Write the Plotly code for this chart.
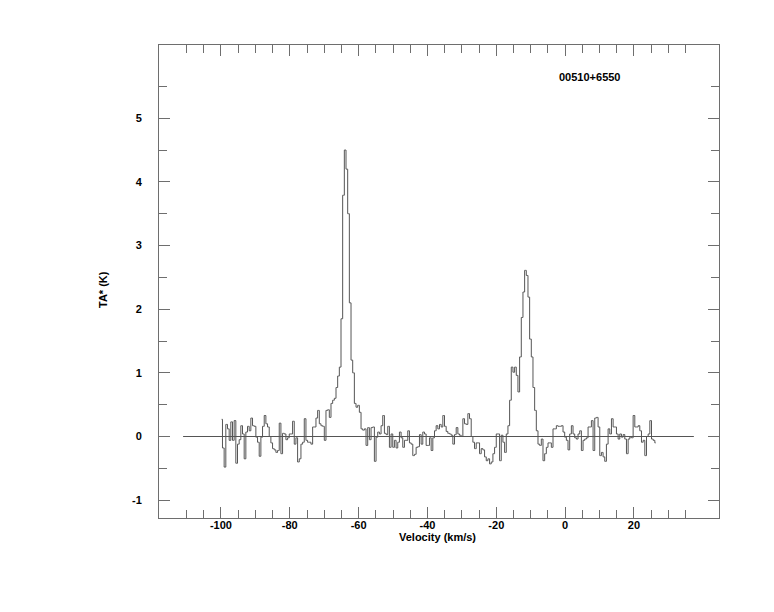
import plotly.graph_objects as go

# ---- data ----
v_start = -99.8      # km/s, first channel
chan_width = 0.485   # km/s per channel

seg_a = [0.27, -0.18, -0.48, 0.19, 0.12, -0.06, 0.23, -0.06, 0.25, -0.42, -0.12,
         -0.05, 0.17, 0.04, -0.35, 0.07, 0.16, 0.09, 0.29, 0.17, 0.16,
         -0.01, -0.09, -0.31, -0.01, 0.16, 0.33, 0.20, 0.15, 0.00, -0.10,
         -0.19, -0.21, -0.25, -0.22, 0.21, -0.27, 0.05, 0.04, -0.05, -0.02,
         0.04, 0.04, 0.24, -0.12, -0.02, -0.40, -0.35, -0.12, -0.09, 0.28,
         -0.06, -0.09, -0.09, -0.12, 0.15, 0.15, 0.29, 0.41, 0.20, 0.17,
         0.16, -0.06, 0.41, 0.42, 0.30, 0.52, 0.57]
seg_peak1 = [0.60, 0.77, 0.95, 1.09, 1.85, 3.79, 4.50, 4.20, 3.50, 2.10,
             1.20, 1.00, 0.52]
seg_c = [0.46, 0.49, 0.38, 0.12, 0.10, 0.12, -0.14, 0.14, -0.05, 0.14, 0.15,
         -0.39, -0.01, 0.07, 0.04, 0.17, 0.33, 0.05, 0.03, 0.16, -0.17,
         0.04, -0.17, -0.06, -0.18, -0.09, 0.07, -0.02, -0.17, -0.06, -0.06,
         0.09, -0.10, -0.12, -0.30, -0.28, -0.17, -0.16, 0.03, -0.12, 0.07,
         0.04, -0.14, -0.14, -0.02, -0.22, -0.02, 0.09, 0.17, 0.12, 0.19,
         0.15, 0.33, 0.16, 0.08, 0.05, 0.04, 0.02, -0.12, 0.03, 0.14,
         0.04, 0.02, 0.00, 0.28, 0.20, 0.19, 0.36, 0.28, 0.00, -0.09,
         -0.19, -0.10, -0.10]
seg_d = [-0.27, -0.19, -0.21, -0.32, -0.38, -0.35, -0.43, -0.40, -0.27, -0.17,
         0.04, 0.04, -0.38, 0.02, -0.09, -0.25, 0.04, 0.17, 0.57, 1.09,
         1.01, 1.09, 0.96, 0.70, 1.25, 1.87, 2.27, 2.61, 2.53, 2.19,
         1.53, 1.25, 0.77, 0.41, 0.09, -0.12, -0.14, -0.04, -0.38, -0.27,
         -0.17, -0.10, -0.10, -0.17, 0.12, 0.12, 0.17, 0.16]
seg_e = [0.16, 0.17, 0.07, -0.01, -0.06, -0.21, 0.04, 0.17, 0.04, -0.02,
         -0.04, 0.04, 0.09, -0.22, -0.06, -0.04, -0.02, 0.15, 0.15, 0.25,
         -0.22, 0.29, 0.30, 0.15, -0.30, -0.25, -0.32, -0.39, -0.12, 0.12,
         0.04, 0.28, 0.15, 0.15, 0.04, -0.04, 0.04, -0.01, 0.03, -0.04,
         -0.27, -0.04, -0.01, -0.02, 0.33, 0.15, 0.15, 0.17, 0.09, -0.09,
         -0.06, -0.30, 0.00, 0.04, 0.25, -0.04, -0.06, -0.10]

ta_star = seg_a + seg_peak1 + seg_c + seg_d + seg_e
velocity = [v_start + i * chan_width for i in range(len(ta_star))]

baseline_x = [-111.0, 37.4]
baseline_y = [0.0, 0.0]

x_major = [-100, -80, -60, -40, -20, 0, 20]
x_major_text = ["-100", "-80", "-60", "-40", "-20", "0", "20"]
x_minor = [v for v in range(-110, 40, 5) if v not in x_major]
y_major = [-1, 0, 1, 2, 3, 4, 5]
y_major_text = ["-1", "0", "1", "2", "3", "4", "5"]
y_minor = [-0.5, 0.5, 1.5, 2.5, 3.5, 4.5, 5.5]

title_text = "00510+6550"
x_title = "Velocity (km/s)"
y_title = "TA* (K)"

# ---- figure ----
LINE = "#555555"
FRAME = "#6e6e6e"
FONT = "Liberation Sans, Arial, sans-serif"

fig = go.Figure()
fig.add_trace(go.Scatter(x=baseline_x, y=baseline_y, mode="lines",
                         line=dict(color=LINE, width=1), hoverinfo="skip",
                         showlegend=False))
fig.add_trace(go.Scatter(x=velocity, y=ta_star, mode="lines",
                         line=dict(color=LINE, width=1, shape="hvh"),
                         showlegend=False))

axis_common = dict(showline=True, linecolor=FRAME, linewidth=1, mirror="ticks",
                   ticks="inside", ticklen=11, tickwidth=1, tickcolor=FRAME,
                   showgrid=False, zeroline=False,
                   tickfont=dict(family=FONT, size=11, color="black", weight="bold"))

fig.update_xaxes(range=[-118, 44.7], tickmode="array", tickvals=x_major,
                 ticktext=x_major_text, ticklabelstandoff=-3,
                 minor=dict(tickmode="array", tickvals=x_minor, ticks="inside",
                            ticklen=8, tickcolor=FRAME, showgrid=False),
                 **axis_common)
fig.update_yaxes(range=[-1.28, 6.15], tickmode="array", tickvals=y_major,
                 ticktext=y_major_text, ticklabelstandoff=14,
                 minor=dict(tickmode="array", tickvals=y_minor, ticks="inside",
                            ticklen=8, tickcolor=FRAME, showgrid=False),
                 **axis_common)

fig.add_annotation(text=title_text, xref="paper", yref="paper",
                   x=(557 - 159) / 560, y=(518 - 77) / 473,
                   xanchor="left", yanchor="middle", showarrow=False,
                   font=dict(family=FONT, size=11, color="black", weight="bold"))
fig.add_annotation(text=x_title, xref="paper", yref="paper",
                   x=(437 - 159) / 560, y=(518 - 537) / 473,
                   xanchor="center", yanchor="middle", showarrow=False,
                   font=dict(family=FONT, size=11, color="black", weight="bold"))
fig.add_annotation(text=y_title, xref="paper", yref="paper",
                   x=(103 - 159) / 560, y=(518 - 290) / 473, textangle=-90,
                   xanchor="center", yanchor="middle", showarrow=False,
                   font=dict(family=FONT, size=11, color="black", weight="bold"))

# the page body adds an 8 px offset, so margins are shifted to keep the frame
# at the reference's pixel position
fig.update_layout(width=774, height=612,
                  margin=dict(l=151, r=63, t=37, b=102),
                  paper_bgcolor="white", plot_bgcolor="white")

fig.write_html("out.html")
